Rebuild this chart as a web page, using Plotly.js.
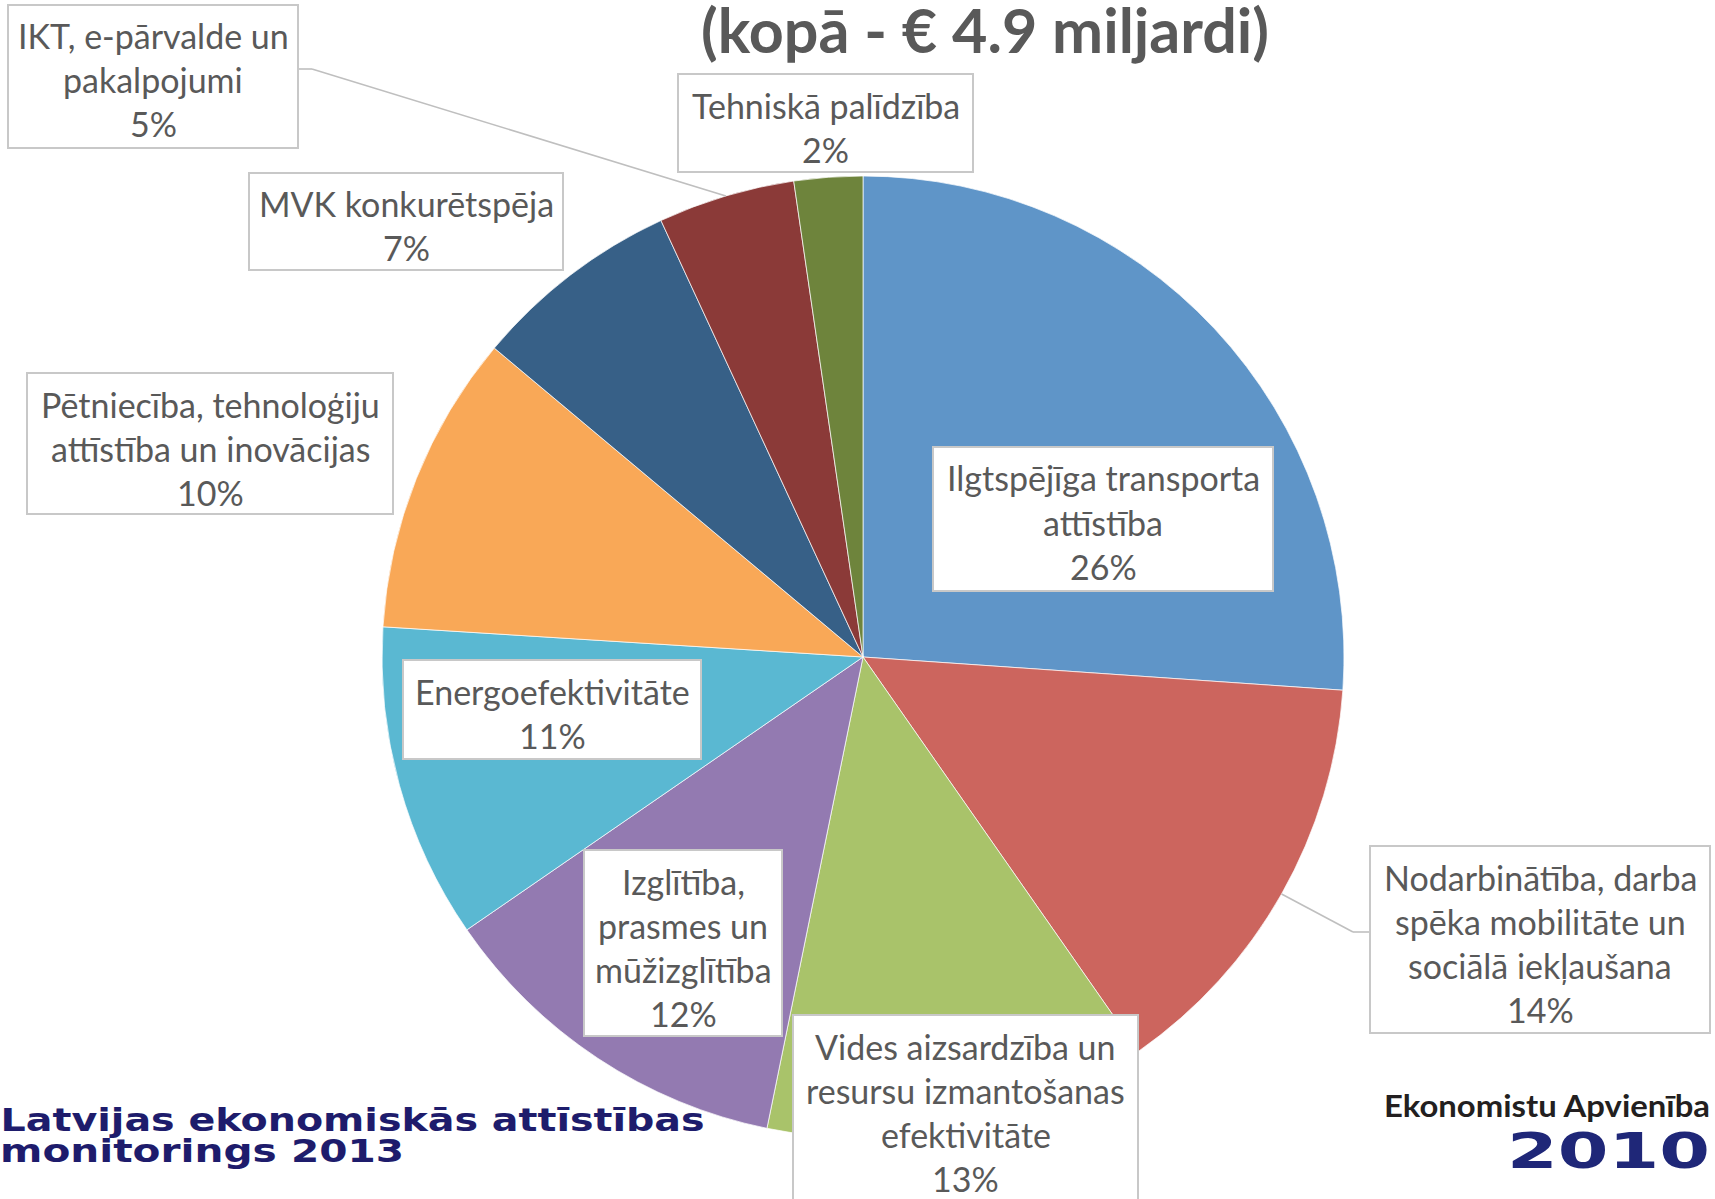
<!DOCTYPE html>
<html>
<head>
<meta charset="utf-8">
<script src="https://cdn.plot.ly/plotly-3.0.1.min.js"></script>
<style>html,body{margin:0;padding:0;background:#fff;} #chart{width:1715px;height:1199px;}</style>
</head>
<body>
<div id="chart"></div>
<script>
// ---- data (clockwise from 12 o'clock) ----
const categories = [
  "Ilgtspējīga transporta attīstība",
  "Nodarbinātība, darba spēka mobilitāte un sociālā iekļaušana",
  "Vides aizsardzība un resursu izmantošanas efektivitāte",
  "Izglītība, prasmes un mūžizglītība",
  "Energoefektivitāte",
  "Pētniecība, tehnoloģiju attīstība un inovācijas",
  "MVK konkurētspēja",
  "IKT, e-pārvalde un pakalpojumi",
  "Tehniskā palīdzība"
];
const shares = [26.1, 14.2, 12.9, 12.2, 10.6, 10.1, 7.0, 4.6, 2.3];
const labelLines = [
  ["Ilgtspējīga transporta", "attīstība"],
  ["Nodarbinātība, darba", "spēka mobilitāte un", "sociālā iekļaušana"],
  ["Vides aizsardzība un", "resursu izmantošanas", "efektivitāte"],
  ["Izglītība,", "prasmes un", "mūžizglītība"],
  ["Energoefektivitāte"],
  ["Pētniecība, tehnoloģiju", "attīstība un inovācijas"],
  ["MVK konkurētspēja"],
  ["IKT, e-pārvalde un", "pakalpojumi"],
  ["Tehniskā palīdzība"]
];
const titleText = "(kopā - € 4.9 miljardi)";
const footerLines = ["Latvijas ekonomiskās attīstības", "monitorings 2013"];
const logoLines = ["Ekonomistu Apvienība", "2010"];

// ---- styles / layout ----
const colors = ["#5F95C8", "#CC655E", "#A9C36A", "#937AB1", "#5AB8D2", "#F9A857", "#376087", "#8B3A38", "#6E843C"];
const W = 1715, H = 1199;
const cx = 863, cy = 657, R = 481;
// label boxes [left, top, right, bottom] in px
const boxes = [
  [933, 447, 1273, 591],
  [1370, 846, 1710, 1033],
  [793, 1015, 1138, 1201],
  [584, 850, 782, 1036],
  [403, 660, 701, 759],
  [27, 373, 393, 514],
  [249, 173, 563, 270],
  [8, 5, 298, 148],
  [678, 74, 973, 172]
];
// leader lines: index -> [attachX, attachY, elbowX]
const leaders = {7: [298, 69, 312], 1: [1370, 932, 1353]};

const px = x => x / W;
const py = y => 1 - y / H;
const textColor = "#595959";
const labelFont = {family: "Lato, 'Open Sans', sans-serif", size: 34, color: textColor};

const total = shares.reduce((a, b) => a + b, 0);
const pct = shares.map(v => Math.round(v / total * 100) + "%");

const shapes = [];
const annotations = [];

// leader lines computed from slice mid angles
let cum = 0;
const midAngles = shares.map(v => { const m = (cum + v / 2) / total * 2 * Math.PI; cum += v; return m; });
Object.keys(leaders).forEach(k => {
  const i = +k, [ax, ay, ex] = leaders[i];
  const tx = cx + R * Math.sin(midAngles[i]);
  const ty = cy - R * Math.cos(midAngles[i]);
  const ln = {color: "#BFBFBF", width: 1.6};
  shapes.push({type: "line", xref: "paper", yref: "paper", x0: px(ax), y0: py(ay), x1: px(ex), y1: py(ay), line: ln});
  shapes.push({type: "line", xref: "paper", yref: "paper", x0: px(ex), y0: py(ay), x1: px(tx), y1: py(ty), line: ln});
});

boxes.forEach((b, i) => {
  shapes.push({type: "rect", xref: "paper", yref: "paper", layer: "above",
    x0: px(b[0]), x1: px(b[2]), y0: py(b[3]), y1: py(b[1]),
    fillcolor: "#FFFFFF", line: {color: "#C8C8C8", width: 2}});
  const lines = labelLines[i].concat([pct[i]]);
  const xc = (b[0] + b[2]) / 2;
  lines.forEach((t, j) => {
    annotations.push({xref: "paper", yref: "paper", x: px(xc), y: py(b[1] + 31 + j * 44),
      xanchor: "center", yanchor: "middle", showarrow: false, text: t, font: labelFont});
  });
});

// title
annotations.push({xref: "paper", yref: "paper", x: px(985), y: py(29), xanchor: "center", yanchor: "middle",
  showarrow: false, text: "<b>" + titleText + "</b>",
  font: {family: "Lato, sans-serif", size: 61, color: textColor}});

// footer and logo
const stretchList = [];
function addStretch(text, xc, yc, len, font) {
  stretchList.push([annotations.length, len]);
  annotations.push({xref: "paper", yref: "paper", x: px(xc), y: py(yc), xanchor: "center", yanchor: "middle",
    showarrow: false, text: "<b>" + text + "</b>", font: font});
}
const navy = "#1E1C6C";
addStretch(footerLines[0], 352, 1120, 704, {family: "'DejaVu Sans', sans-serif", size: 32, color: navy});
addStretch(footerLines[1], 202, 1151, 404, {family: "'DejaVu Sans', sans-serif", size: 32, color: navy});
addStretch(logoLines[0], 1547, 1105, 326, {family: "Lato, sans-serif", size: 30, color: "#231F20"});
addStretch(logoLines[1], 1608, 1151, 203, {family: "'DejaVu Sans', sans-serif", size: 50, color: "#1F2778"});

const trace = {
  type: "pie",
  labels: categories,
  values: shares,
  sort: false,
  direction: "clockwise",
  rotation: 0,
  textinfo: "none",
  hoverinfo: "label+percent",
  marker: {colors: colors, line: {color: "rgba(255,255,255,0.7)", width: 1}},
  domain: {x: [(cx - R) / W, (cx + R) / W], y: [1 - (cy + R) / H, 1 - (cy - R) / H]},
  showlegend: false
};

const layout = {
  width: W, height: H,
  margin: {l: 0, r: 0, t: 0, b: 0},
  paper_bgcolor: "#FFFFFF",
  showlegend: false,
  shapes: shapes,
  annotations: annotations
};

Plotly.newPlot("chart", [trace], layout, {displayModeBar: false, staticPlot: true}).then(() => {
  stretchList.forEach(([idx, len]) => {
    const el = document.querySelector('.annotation[data-index="' + idx + '"] text.annotation-text');
    if (el) { el.setAttribute("textLength", len); el.setAttribute("lengthAdjust", "spacingAndGlyphs"); }
  });
});
</script>
</body>
</html>
